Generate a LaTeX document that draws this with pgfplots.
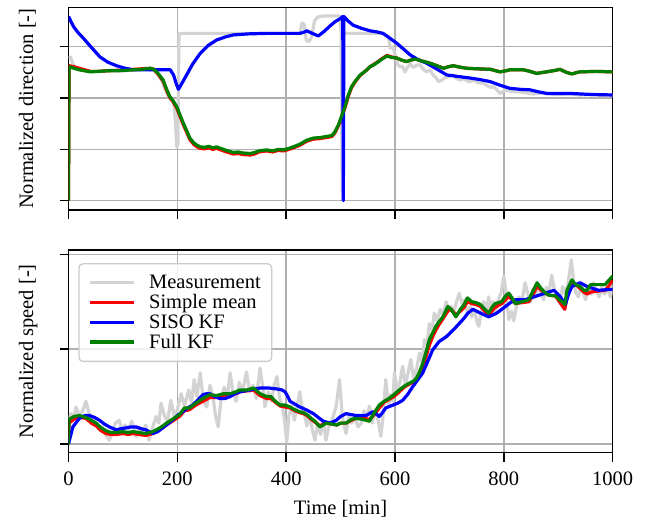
\documentclass[border=0pt]{standalone}
\usepackage{fontspec}
\setmainfont{Liberation Serif}
\usepackage{pgfplots}
\pgfplotsset{compat=1.18}

\definecolor{meas}{HTML}{D3D3D3}
\definecolor{kfgreen}{HTML}{008000}
\definecolor{gridc}{HTML}{B0B0B0}

\pgfplotsset{
  panel/.style={
    scale only axis, width=544.2bp, height=202.7bp,
    xmin=0, xmax=1000, xtick={0,200,...,1000},
    grid=major, major grid style={gridc, line width=1.5bp},
    axis line style={line width=1.5bp},
    tick style={black, line width=1.5bp},
    tick align=outside, major tick length=9bp,
    xtick pos=bottom, ytick pos=left,
    yticklabels={},
    font=\fontsize{20.5bp}{24bp}\selectfont,
    /pgf/number format/assume math mode=true,
    /pgf/number format/1000 sep={},
    every axis plot/.append style={line width=3.2bp, line join=round},
    ylabel style={at={(axis description cs:-0.0652,0.5)}, anchor=base, rotate=0},
  },
}

\begin{document}
\begin{tikzpicture}
\path[use as bounding box] (0,0) rectangle (654bp,-521bp);

% direction
\begin{axis}[panel, at={(68.5bp,-210bp)}, anchor=south west,
  ymin=-0.181, ymax=3.768, ytick={0,1,2,3}, xticklabels={},
  ylabel={Normalized direction [-]}]
\addplot[meas] coordinates {
(0,2.78) (4,2.80) (8,2.66) (12,2.60) (20,2.55) (40,2.52) (60,2.52) (80,2.54)
(100,2.53) (120,2.55) (140,2.56) (155,2.55) (165,2.45) (172,2.32) (180,2.10)
(188,1.98) (193,1.96) (196,1.60) (199,1.05) (201,1.10) (203,3.26) (260,3.26)
(330,3.26) (425,3.26) (429,3.46) (433,3.44) (437,3.12) (442,3.10) (447,3.20)
(452,3.50) (458,3.58) (470,3.60) (485,3.60) (498,3.60) (501,3.30) (503,0.17)
(505,3.26) (540,3.26) (578,3.26) (583,3.22) (588,3.20) (591,2.97) (596,3.00)
(600,2.85) (605,2.65) (609,2.61) (614,2.62) (618,2.51) (623,2.60) (628,2.67)
(633,2.60) (640,2.64) (646,2.65) (652,2.56) (658,2.51) (664,2.55) (670,2.45)
(675,2.40) (680,2.32) (686,2.35) (692,2.40) (700,2.42) (707,2.45) (713,2.38)
(720,2.35) (727,2.38) (733,2.33) (738,2.32) (745,2.35) (752,2.30) (762,2.29)
(768,2.25) (775,2.21) (782,2.22) (788,2.15) (793,2.09) (798,2.12) (802,2.16)
(810,2.14) (820,2.12) (830,2.12) (842,2.10) (854,2.08) (870,2.10) (885,2.08)
(900,2.07) (920,2.08) (940,2.06) (960,2.07) (980,2.05) (1000,2.05)
};
\addplot[red] coordinates {
(0,0.0) (1,2.63) (10,2.61) (20,2.58) (30,2.55) (40,2.52) (55,2.52) (70,2.53)
(88,2.54) (105,2.55) (120,2.56) (135,2.57) (150,2.58) (157,2.56) (163,2.49)
(169,2.40) (174,2.33) (180,2.16) (186,2.01) (192,1.93) (199,1.80) (205,1.64)
(211,1.48) (217,1.34) (223,1.19) (230,1.10) (236,1.05) (242,1.02) (250,1.01)
(258,1.03) (265,1.00) (272,1.02) (280,0.99) (290,0.95) (303,0.91) (312,0.92)
(320,0.90) (334,0.89) (342,0.91) (350,0.95) (364,0.97) (375,0.95) (385,0.98)
(395,0.97) (405,1.00) (413,1.03) (425,1.08) (438,1.16) (450,1.20) (462,1.21)
(473,1.23) (484,1.25) (490,1.33) (496,1.46) (502,1.63) (508,1.81) (514,2.03)
(520,2.20) (527,2.32) (536,2.44) (545,2.52) (554,2.61) (560,2.65) (566,2.69)
(575,2.76) (585,2.83) (594,2.80) (603,2.78) (612,2.74) (621,2.71) (629,2.74)
(637,2.76) (650,2.72) (664,2.68) (677,2.63) (689,2.58) (698,2.61) (707,2.63)
(720,2.60) (732,2.58) (750,2.57) (775,2.56) (793,2.51) (803,2.53) (811,2.55)
(836,2.55) (848,2.52) (860,2.48) (878,2.51) (895,2.54) (903,2.56) (915,2.50)
(925,2.47) (935,2.50) (940,2.51) (970,2.52) (998,2.51) (1000,2.51)
};
\addplot[blue] coordinates {
(0,3.59) (5,3.48) (10,3.38) (18,3.27) (27,3.17) (36,3.06) (46,2.94) (58,2.80)
(72,2.70) (88,2.63) (104,2.58) (119,2.55) (140,2.55) (165,2.55) (187,2.55)
(193,2.45) (198,2.28) (202,2.17) (208,2.28) (217,2.45) (228,2.66) (242,2.87)
(256,3.02) (272,3.13) (288,3.19) (303,3.23) (330,3.25) (364,3.26) (400,3.26)
(425,3.26) (432,3.28) (438,3.31) (448,3.26) (459,3.21) (470,3.30) (480,3.40)
(490,3.49) (500,3.55) (504,3.59) (505,0.0) (506,3.59) (514,3.50) (523,3.42)
(538,3.36) (554,3.31) (566,3.29) (578,3.26) (590,3.17) (603,3.07) (615,2.96)
(628,2.84) (642,2.75) (658,2.68) (676,2.57) (695,2.45) (716,2.42) (738,2.39)
(756,2.36) (775,2.32) (793,2.25) (811,2.19) (830,2.17) (848,2.16) (864,2.12)
(879,2.09) (900,2.09) (921,2.09) (960,2.07) (1000,2.06)
};
\addplot[kfgreen] coordinates {
(0,0.0) (1,2.61) (10,2.58) (20,2.55) (30,2.53) (40,2.51) (55,2.52) (70,2.53)
(88,2.53) (105,2.54) (120,2.55) (135,2.56) (150,2.58) (157,2.56) (163,2.50)
(169,2.42) (174,2.35) (180,2.18) (186,2.03) (192,1.95) (199,1.83) (205,1.67)
(211,1.51) (217,1.37) (223,1.22) (230,1.13) (236,1.08) (242,1.05) (250,1.04)
(258,1.06) (265,1.03) (272,1.05) (280,1.02) (290,0.98) (303,0.94) (312,0.95)
(320,0.93) (334,0.92) (342,0.94) (350,0.97) (364,0.99) (375,0.97) (385,1.00)
(395,0.99) (405,1.02) (413,1.05) (425,1.10) (438,1.18) (450,1.22) (462,1.23)
(473,1.25) (484,1.27) (490,1.35) (496,1.48) (502,1.65) (508,1.83) (514,2.05)
(520,2.22) (527,2.33) (536,2.45) (545,2.52) (554,2.61) (560,2.64) (566,2.68)
(575,2.75) (585,2.82) (594,2.79) (603,2.78) (612,2.74) (621,2.71) (629,2.74)
(637,2.76) (650,2.72) (664,2.68) (677,2.63) (689,2.58) (698,2.61) (707,2.63)
(720,2.60) (732,2.58) (750,2.57) (775,2.56) (793,2.51) (803,2.53) (811,2.55)
(836,2.55) (848,2.52) (860,2.48) (878,2.51) (895,2.54) (903,2.56) (915,2.50)
(925,2.47) (935,2.50) (940,2.51) (970,2.52) (998,2.51) (1000,2.51)
};
\end{axis}

% speed
\begin{axis}[panel, at={(68.5bp,-452.7bp)}, anchor=south west,
  ymin=-0.092, ymax=2.045, ytick={0,1,2},
  xticklabel style={anchor=base, yshift=-24bp},
  xlabel={Time [min]},
  xlabel style={at={(axis description cs:0.5,-0.3024)}, anchor=base},
  ylabel={Normalized speed [-]},
  legend cell align=left,
  legend image code/.code={\draw[#1] (0bp,0bp) -- (44bp,0bp);},
  legend style={at={(rel axis cs:0.018,0.935)}, anchor=north west,
    draw=black!20, line width=1.3bp, rounded corners=4bp,
    fill=white, fill opacity=0.8, text opacity=1,
    inner xsep=9bp, inner ysep=9.5bp, row sep=0.4bp, column sep=12bp},
]
\addplot[meas] coordinates {
(0,0.25) (5,0.32) (10,0.28) (14,0.39) (20,0.30) (26,0.35) (32,0.45) (38,0.32)
(44,0.28) (50,0.20) (57,0.15) (62,0.18) (68,0.10) (75,0.04) (80,0.12) (86,0.22)
(93,0.25) (98,0.15) (104,0.20) (110,0.14) (116,0.24) (121,0.16) (124,0.08)
(130,0.18) (136,0.12) (142,0.20) (148,0.04) (155,0.18) (161,0.29) (166,0.22)
(170,0.43) (176,0.30) (182,0.24) (188,0.46) (194,0.30) (200,0.36) (207,0.53)
(213,0.40) (221,0.57) (226,0.44) (231,0.68) (236,0.50) (242,0.75) (248,0.45)
(254,0.39) (260,0.62) (266,0.48) (270,0.30) (275,0.18) (280,0.45) (286,0.60)
(292,0.50) (297,0.75) (302,0.55) (308,0.45) (314,0.65) (320,0.55) (327,0.76)
(333,0.55) (339,0.62) (345,0.48) (352,0.80) (357,0.60) (361,0.39) (367,0.55)
(373,0.45) (378,0.62) (383,0.71) (388,0.48) (393,0.40) (397,0.25) (401,0.02)
(405,0.30) (410,0.40) (415,0.25) (420,0.40) (425,0.55) (430,0.35) (435,0.28)
(438,0.19) (443,0.30) (448,0.15) (453,0.04) (458,0.22) (463,0.10) (468,0.25)
(473,0.04) (478,0.18) (481,0.22) (486,0.28) (492,0.40) (498,0.68) (503,0.30)
(507,0.18) (510,0.11) (515,0.30) (520,0.22) (526,0.28) (532,0.18) (538,0.22)
(543,0.35) (548,0.28) (553,0.40) (558,0.22) (564,0.35) (569,0.25) (574,0.08)
(578,0.30) (583,0.68) (588,0.40) (592,0.52) (596,0.45) (599,0.75) (604,0.55)
(609,0.65) (614,0.82) (619,0.62) (624,0.75) (629,0.89) (634,0.70) (640,0.80)
(645,0.96) (650,0.85) (654,1.10) (659,1.05) (663,1.27) (668,1.20) (672,1.38)
(677,1.30) (683,1.42) (688,1.35) (694,1.50) (698,1.40) (703,1.45) (708,1.38)
(713,1.50) (718,1.59) (723,1.48) (728,1.52) (733,1.38) (738,1.45) (741,1.34)
(746,1.42) (750,1.30) (754,1.24) (758,1.38) (763,1.50) (768,1.40) (772,1.55)
(776,1.42) (780,1.50) (785,1.38) (790,1.52) (795,1.60) (800,1.77) (805,1.55)
(809,1.31) (814,1.40) (818,1.30) (823,1.45) (828,1.55) (833,1.50) (839,1.70)
(844,1.58) (849,1.50) (853,1.62) (858,1.55) (863,1.65) (868,1.60) (873,1.52)
(878,1.65) (883,1.60) (888,1.78) (893,1.62) (898,1.55) (903,1.50) (908,1.66)
(913,1.58) (918,1.70) (924,1.94) (928,1.72) (932,1.60) (937,1.55) (941,1.68)
(946,1.60) (950,1.52) (955,1.64) (960,1.58) (965,1.70) (970,1.62) (975,1.55)
(980,1.66) (985,1.58) (990,1.64) (996,1.55) (1000,1.70)
};
\addlegendentry{Measurement}
\addplot[red] coordinates {
(0,0.0) (1,0.22) (10,0.26) (20,0.28) (32,0.27) (42,0.22) (51,0.19) (60,0.14)
(69,0.11) (78,0.10) (87,0.10) (100,0.11) (110,0.10) (118,0.11) (130,0.10)
(142,0.09) (155,0.11) (165,0.14) (173,0.17) (180,0.20) (188,0.23) (196,0.26)
(204,0.29) (213,0.35) (222,0.36) (234,0.41) (247,0.45) (260,0.49) (272,0.49)
(285,0.51) (297,0.52) (308,0.53) (315,0.55) (328,0.56) (340,0.57) (346,0.54)
(352,0.51) (364,0.48) (372,0.48) (380,0.44) (389,0.40) (398,0.39) (407,0.38)
(416,0.35) (425,0.33) (432,0.32) (438,0.30) (446,0.26) (453,0.23) (462,0.19)
(468,0.21) (474,0.22) (484,0.21) (493,0.20) (500,0.22) (510,0.22) (520,0.25)
(528,0.27) (540,0.27) (553,0.26) (562,0.31) (571,0.38) (580,0.44) (589,0.47)
(598,0.50) (608,0.55) (617,0.60) (626,0.63) (633,0.65) (639,0.67) (645,0.72)
(651,0.80) (657,0.92) (663,1.04) (669,1.13) (675,1.20) (681,1.26) (688,1.32)
(697,1.40) (703,1.42) (712,1.36) (720,1.40) (727,1.44) (733,1.50) (741,1.48)
(749,1.47) (757,1.45) (765,1.40) (772,1.36) (778,1.40) (784,1.44) (796,1.48)
(803,1.52) (809,1.56) (815,1.52) (821,1.48) (833,1.49) (846,1.50) (854,1.58)
(861,1.66) (867,1.63) (873,1.60) (882,1.57) (895,1.56) (902,1.50) (907,1.46)
(912,1.42) (916,1.55) (925,1.70) (932,1.68) (940,1.64) (947,1.60) (953,1.58)
(959,1.60) (970,1.61) (986,1.62) (992,1.66) (1000,1.73)
};
\addlegendentry{Simple mean}
\addplot[blue] coordinates {
(0,0.0) (8,0.18) (20,0.27) (30,0.30) (38,0.30) (48,0.28) (57,0.25) (66,0.21)
(75,0.18) (87,0.15) (96,0.16) (106,0.17) (115,0.18) (124,0.18) (134,0.16)
(142,0.15) (155,0.11) (164,0.13) (173,0.17) (182,0.21) (191,0.25) (200,0.30)
(210,0.34) (219,0.38) (228,0.41) (237,0.46) (247,0.52) (254,0.53) (260,0.53)
(268,0.50) (278,0.48) (288,0.48) (297,0.50) (306,0.53) (315,0.55) (334,0.57)
(352,0.59) (368,0.59) (383,0.58) (392,0.57) (398,0.55) (403,0.50) (407,0.45)
(416,0.42) (425,0.39) (437,0.36) (450,0.32) (459,0.28) (468,0.24) (481,0.22)
(492,0.25) (500,0.29) (510,0.32) (519,0.31) (528,0.30) (547,0.30) (559,0.34)
(565,0.32) (571,0.29) (577,0.33) (583,0.38) (596,0.41) (605,0.43) (614,0.46)
(623,0.52) (632,0.60) (641,0.67) (651,0.75) (660,0.87) (669,0.99) (681,1.08)
(694,1.13) (703,1.18) (710,1.22) (718,1.27) (726,1.32) (734,1.38) (743,1.42)
(757,1.38) (772,1.34) (787,1.38) (803,1.45) (812,1.49) (821,1.52) (839,1.52)
(855,1.55) (876,1.59) (892,1.62) (904,1.55) (913,1.47) (919,1.58) (925,1.66)
(940,1.70) (953,1.66) (974,1.62) (996,1.63) (1000,1.63)
};
\addlegendentry{SISO KF}
\addplot[kfgreen] coordinates {
(0,0.0) (1,0.26) (10,0.29) (20,0.30) (32,0.28) (42,0.25) (51,0.22) (60,0.17)
(69,0.14) (78,0.12) (87,0.12) (100,0.13) (110,0.12) (118,0.13) (130,0.12)
(142,0.11) (155,0.13) (165,0.16) (173,0.19) (180,0.22) (188,0.25) (196,0.28)
(204,0.31) (213,0.38) (222,0.38) (234,0.43) (247,0.48) (260,0.52) (272,0.51)
(285,0.53) (297,0.53) (308,0.55) (315,0.57) (328,0.57) (340,0.59) (346,0.56)
(352,0.53) (364,0.50) (372,0.50) (380,0.45) (389,0.41) (398,0.41) (407,0.39)
(416,0.36) (425,0.34) (432,0.33) (438,0.31) (446,0.27) (453,0.24) (462,0.18)
(468,0.20) (474,0.22) (484,0.21) (493,0.20) (500,0.22) (510,0.22) (520,0.26)
(528,0.27) (540,0.26) (553,0.24) (562,0.33) (571,0.41) (580,0.45) (589,0.48)
(598,0.52) (608,0.57) (617,0.61) (626,0.64) (633,0.66) (639,0.69) (645,0.76)
(651,0.85) (657,0.97) (663,1.10) (669,1.17) (675,1.24) (681,1.29) (688,1.34)
(697,1.45) (703,1.42) (712,1.34) (720,1.42) (727,1.47) (733,1.54) (741,1.50)
(749,1.49) (757,1.47) (765,1.42) (772,1.38) (778,1.44) (784,1.48) (796,1.50)
(803,1.56) (809,1.59) (815,1.54) (821,1.48) (833,1.50) (846,1.52) (854,1.62)
(861,1.70) (867,1.65) (873,1.61) (882,1.57) (895,1.56) (902,1.52) (907,1.50)
(912,1.47) (916,1.62) (925,1.73) (932,1.68) (940,1.66) (947,1.62) (953,1.62)
(959,1.68) (970,1.68) (986,1.68) (992,1.72) (1000,1.77)
};
\addlegendentry{Full KF}
\end{axis}
\end{tikzpicture}
\end{document}
